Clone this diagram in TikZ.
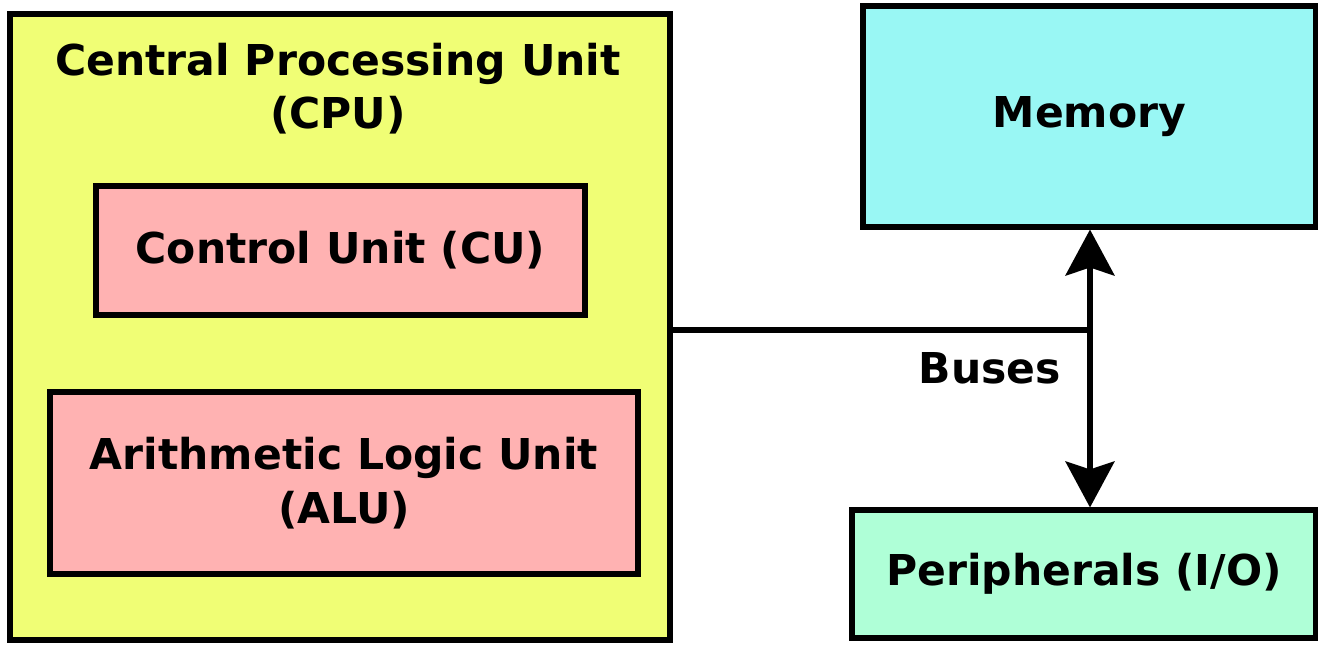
\documentclass[tikz,border=0pt]{standalone}
\usepackage{fontspec}
\setmainfont{DejaVu Sans}
\usetikzlibrary{arrows.meta}

\definecolor{cpuyellow}{RGB}{240,254,117}
\definecolor{unitpink}{RGB}{255,178,178}
\definecolor{memcyan}{RGB}{153,247,244}
\definecolor{iogreen}{RGB}{175,255,215}

\tikzset{
  block/.style={draw=black, line width=1.45pt, rectangle, inner sep=0pt, align=center,
    font=\fontsize{12.1}{15.2}\selectfont\bfseries},
  bus/.style={line width=1.45pt},
  busarrow/.style={line width=1.45pt, {Stealth[length=0.46cm,width=0.49cm,inset=0.08cm]}-{Stealth[length=0.46cm,width=0.49cm,inset=0.08cm]}}
}

\begin{document}
\begin{tikzpicture}[font=\fontsize{12.1}{15.2}\selectfont\bfseries]
  \useasboundingbox (0,0) rectangle (13.18,-6.45);
  \node[block, fill=cpuyellow, minimum width=6.6cm, minimum height=6.26cm] (cpu) at (3.40,-3.27) {};
  \node[align=center] (cputitle) at (3.38,-0.885) {Central Processing Unit\\(CPU)};
  \node[block, fill=unitpink, minimum width=4.89cm, minimum height=1.29cm] (cu) at (3.405,-2.505) {Control Unit (CU)};
  \node[block, fill=unitpink, minimum width=5.88cm, minimum height=1.82cm] (alu) at (3.44,-4.83) {Arithmetic Logic Unit\\(ALU)};
  \node[block, fill=memcyan, minimum width=4.53cm, minimum height=2.21cm] (mem) at (10.895,-1.165) {Memory};
  \node[block, fill=iogreen, minimum width=4.64cm, minimum height=1.28cm] (io) at (10.84,-5.74) {Peripherals (I/O)};
  \coordinate (busjoint) at (10.90,-3.30);
  \node (buses) at (9.90,-3.68) {Buses};
  \draw[bus] (cpu.east |- busjoint) -- (busjoint);
  \draw[busarrow] (busjoint |- mem.south) -- (busjoint |- io.north);
\end{tikzpicture}
\end{document}
